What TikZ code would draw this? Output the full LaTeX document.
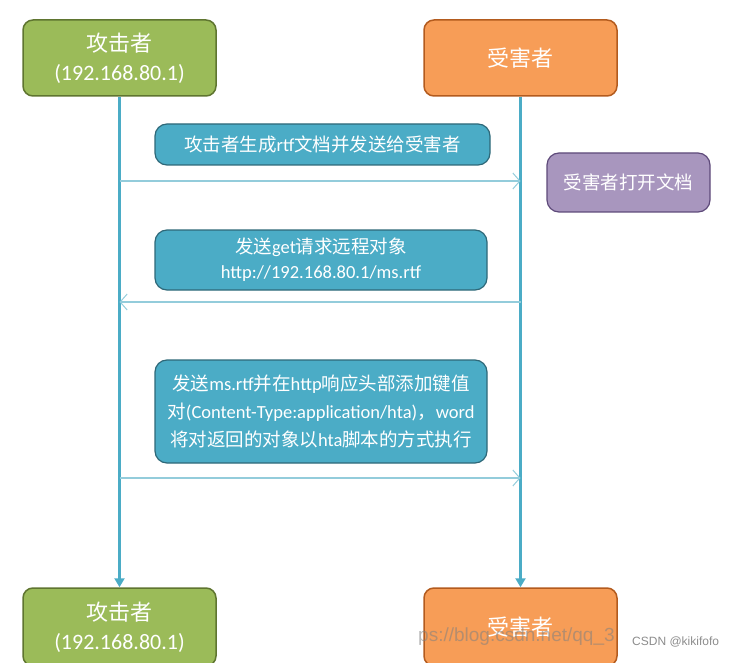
\documentclass[tikz,border=0pt]{standalone}
\usepackage{fontspec}
\setmainfont{Carlito}
\newfontfamily\cjk{Noto Sans CJK SC}
\newfontfamily\wmfont{Liberation Sans}
\usetikzlibrary{arrows.meta}
\definecolor{gfill}{HTML}{9BBB59}
\definecolor{gdraw}{HTML}{5F7530}
\definecolor{ofill}{HTML}{F79D57}
\definecolor{odraw}{HTML}{B35B1E}
\definecolor{tfill}{HTML}{4BACC6}
\definecolor{tdraw}{HTML}{2E6878}
\definecolor{pfill}{HTML}{A896BE}
\definecolor{pdraw}{HTML}{5E4A7A}
\definecolor{life}{HTML}{4BACC6}
\definecolor{msg}{HTML}{93CCDB}
\tikzset{
  actor/.style={draw, line width=1.5pt, rounded corners=10pt, text=white, align=center, inner sep=0pt, font=\fontsize{22}{29}\selectfont},
  msgbox/.style={draw=tdraw, fill=tfill, line width=1.2pt, rounded corners=12pt, text=white, align=center, inner sep=0pt, font=\fontsize{18.5}{25}\selectfont},
  lifeline/.style={draw=life, line width=3pt, -{Triangle[length=9pt,width=10pt]}},
  msgarrow/.style={draw=msg, line width=1.4pt, -{Straight Barb[length=7pt,width=16pt,line width=1pt]}},
}
\begin{document}
\begin{tikzpicture}[x=1pt,y=-1pt]
\useasboundingbox (0,0) rectangle (744,663);
\begin{scope}
\clip (0,0) rectangle (744,663);
% actors
\node[actor, fill=gfill, draw=gdraw, minimum width=193pt, minimum height=76pt] (a1) at (119.5,58) {{\cjk 攻击者}\\(192.168.80.1)};
\node[actor, fill=ofill, draw=odraw, minimum width=193pt, minimum height=76pt] (v1) at (520.5,58) {\cjk 受害者};
\node[actor, fill=gfill, draw=gdraw, minimum width=193pt, minimum height=78pt] (a2) at (119.5,627) {{\cjk 攻击者}\\(192.168.80.1)};
\node[actor, fill=ofill, draw=odraw, minimum width=193pt, minimum height=78pt] (v2) at (520.5,627) {\cjk 受害者};
% lifelines
\draw[lifeline] (a1.south) -- (a2.north);
\draw[lifeline] (v1.south) -- (v2.north);
% message boxes
\node[msgbox, minimum width=335pt, minimum height=41pt] (m1) at (322.5,144.5) {{\cjk 攻击者生成}rtf{\cjk 文档并发送给受害者}};
\node[msgbox, minimum width=332pt, minimum height=60pt] (m2) at (321,260) {{\cjk 发送}get{\cjk 请求远程对象}\\http://192.168.80.1/ms.rtf};
\node[msgbox, minimum width=332pt, minimum height=103pt, font=\fontsize{18.5}{28}\selectfont] (m3) at (321,411.5) {{\cjk 发送}ms.rtf{\cjk 并在}http{\cjk 响应头部添加键值}\\{\cjk 对}(Content-Type:application/hta){\cjk ，}word\\{\cjk 将对返回的对象以}hta{\cjk 脚本的方式执行}};
\node[draw=pdraw, fill=pfill, line width=1.2pt, rounded corners=12pt, text=white, inner sep=0pt, minimum width=163pt, minimum height=59pt, font=\fontsize{18.5}{25}\selectfont\cjk] (p) at (628.5,182.5) {受害者打开文档};
% message arrows
\coordinate (s1) at (a1.south |- 0,181);
\coordinate (e1) at (v1.south |- 0,181);
\draw[msgarrow] (s1) -- (e1);
\coordinate (s2) at (v1.south |- 0,302);
\coordinate (e2) at (a1.south |- 0,302);
\draw[msgarrow] (s2) -- (e2);
\coordinate (s3) at (a1.south |- 0,478);
\coordinate (e3) at (v1.south |- 0,478);
\draw[msgarrow] (s3) -- (e3);
% watermark
\node[anchor=west, text=gray, text opacity=0.55, inner sep=0pt, font=\fontsize{19}{22}\selectfont\wmfont] (w1) at (418,637) {ps://blog.csdn.net/qq\_3};
\node[anchor=west, text=gray!90, inner sep=0pt, font=\fontsize{12}{14}\selectfont\wmfont] (w2) at (632,642) {CSDN @kikifofo};
\end{scope}
\end{tikzpicture}
\end{document}
